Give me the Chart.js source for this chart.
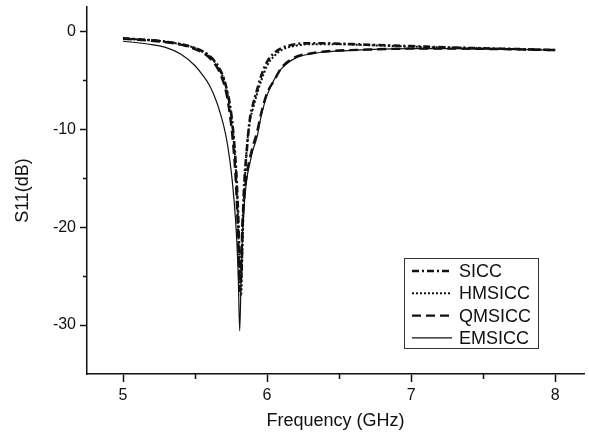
<!DOCTYPE html>
<html>
<head>
<meta charset="utf-8">
<script src="https://cdn.jsdelivr.net/npm/chart.js@4/dist/chart.umd.min.js"></script>
<style>
  html, body { margin: 0; padding: 0; background: #fff; }
  #wrap { width: 589px; height: 434px; position: relative; }
</style>
</head>
<body>
<div id="wrap"><canvas id="chart"></canvas></div>
<script>
// ── Data ──────────────────────────────────────────────────────
const freq = [5.0, 5.1, 5.2, 5.3, 5.4, 5.5, 5.55, 5.6, 5.65, 5.68, 5.7, 5.72, 5.74, 5.76, 5.78, 5.79,
  5.8, 5.81, 5.82, 5.83, 5.84, 5.86, 5.88, 5.9, 5.93, 5.96, 6.0, 6.05, 6.1, 6.2, 6.3, 6.4, 6.5, 6.7,
  7.0, 7.3, 7.6, 8.0];

const sicc = [-0.7, -0.8, -0.9, -1.05, -1.3, -1.7, -2.0, -2.5, -3.3, -4.1, -4.8, -5.9, -7.3, -9.5, -13, -15.5,
  -19, -23.5, -25.5, -20, -16, -12, -9, -7.6, -6, -4.5, -3.1, -2.2, -1.7, -1.3, -1.2, -1.2, -1.25, -1.35,
  -1.5, -1.65, -1.75, -1.9];

const hmsicc = [-0.7, -0.8, -0.9, -1.05, -1.3, -1.7, -2.05, -2.55, -3.4, -4.2, -4.9, -6.0, -7.5, -9.7, -13.3, -16,
  -20, -25, -27, -21.5, -17, -11.8, -9.2, -8.0, -6.4, -5.0, -3.5, -2.5, -1.9, -1.45, -1.3, -1.3, -1.3, -1.4,
  -1.55, -1.65, -1.75, -1.9];

const qmsicc = [-0.75, -0.85, -0.95, -1.1, -1.35, -1.8, -2.15, -2.7, -3.6, -4.5, -5.3, -6.5, -8.3, -10.8, -14.5, -17.5,
  -21.5, -26.5, -24, -19.5, -17.2, -14.5, -13, -11.8, -10.3, -8.3, -6.3, -5.0, -3.7, -2.6, -2.25, -2.05, -1.95, -1.85,
  -1.75, -1.75, -1.8, -1.9];

const emsicc = [-1.0, -1.15, -1.35, -1.65, -2.3, -3.5, -4.4, -5.5, -7.2, -8.6, -9.7, -11.1, -13, -15.5, -19, -21.5,
  -25, -30.6, -25, -20.5, -18, -15, -13.5, -12.2, -10.8, -8.6, -6.5, -4.9, -3.8, -2.7, -2.3, -2.1, -2.0, -1.85,
  -1.75, -1.75, -1.8, -1.9];

const seriesNames = ['SICC', 'HMSICC', 'QMSICC', 'EMSICC'];

const xTicks = [5, 5.5, 6, 6.5, 7, 7.5, 8];
const yTicks = [0, -5, -10, -15, -20, -25, -30];
const xMajor = [5, 6, 7, 8];
const yMajor = [0, -10, -20, -30];

// ── Styles ────────────────────────────────────────────────────
const INK = '#111';
const FONT = 'Arial, "Liberation Sans", sans-serif';

const lineStyles = [
  { borderWidth: 2.6, borderDash: [7, 3, 2, 3] },
  { borderWidth: 2, borderDash: [2, 2] },
  { borderWidth: 2.4, borderDash: [9, 5] },
  { borderWidth: 1.2, borderDash: [] },
];

function toPoints(vals) {
  return freq.map((f, i) => ({ x: f, y: vals[i] }));
}

const datasets = [sicc, hmsicc, qmsicc, emsicc].map((vals, i) => ({
  label: seriesNames[i],
  data: toPoints(vals),
  borderColor: INK,
  backgroundColor: INK,
  pointRadius: 0,
  cubicInterpolationMode: 'monotone',
  fill: false,
  ...lineStyles[i],
}));

// minor ticks drawn shorter than the major ones
const minorTicks = {
  id: 'minorTicks',
  afterDraw(chart) {
    const ctx = chart.ctx;
    const xs = chart.scales.x, ys = chart.scales.y;
    ctx.save();
    ctx.strokeStyle = INK;
    ctx.lineWidth = 1.5;
    xTicks.filter(v => !xMajor.includes(v)).forEach(v => {
      const px = Math.round(xs.getPixelForValue(v)) + 0.5;
      ctx.beginPath();
      ctx.moveTo(px, xs.top);
      ctx.lineTo(px, xs.top + 5);
      ctx.stroke();
    });
    yTicks.filter(v => !yMajor.includes(v)).forEach(v => {
      const py = Math.round(ys.getPixelForValue(v)) + 0.5;
      ctx.beginPath();
      ctx.moveTo(ys.right, py);
      ctx.lineTo(ys.right - 4, py);
      ctx.stroke();
    });
    ctx.restore();
  },
};

// boxed legend in the lower right of the plot
const boxLegend = {
  id: 'boxLegend',
  afterDraw(chart) {
    const ctx = chart.ctx;
    const bx = 404, by = 258, bw = 134, bh = 90;
    const rowH = 22.3;
    ctx.save();
    ctx.strokeStyle = '#333';
    ctx.lineWidth = 1;
    ctx.strokeRect(bx + 0.5, by + 0.5, bw, bh);
    ctx.font = '18px ' + FONT;
    ctx.textBaseline = 'middle';
    ctx.fillStyle = INK;
    chart.data.datasets.forEach((ds, i) => {
      const cy = by + 13 + i * rowH;
      ctx.save();
      ctx.strokeStyle = ds.borderColor;
      ctx.lineWidth = ds.borderWidth;
      ctx.setLineDash(ds.borderDash);
      ctx.beginPath();
      ctx.moveTo(bx + 8, cy);
      ctx.lineTo(bx + 48, cy);
      ctx.stroke();
      ctx.restore();
      ctx.fillText(ds.label, bx + 55, cy + 1);
    });
    ctx.restore();
  },
};

new Chart(document.getElementById('chart'), {
  type: 'line',
  data: { datasets },
  options: {
    responsive: true,
    maintainAspectRatio: false,
    animation: false,
    layout: { padding: { left: 8, right: 5, top: 7, bottom: 2 } },
    plugins: { legend: { display: false }, tooltip: { enabled: false } },
    scales: {
      x: {
        type: 'linear',
        min: 4.75,
        max: 8.2,
        afterBuildTicks: axis => { axis.ticks = xTicks.map(v => ({ value: v })); },
        afterFit: scale => { scale.height = 58; scale.paddingLeft = 0; scale.paddingRight = 0; },
        border: { display: true, color: INK, width: 1.5 },
        grid: {
          drawOnChartArea: false,
          drawTicks: true,
          tickLength: 8,
          tickWidth: 1.5,
          tickColor: c => (xMajor.includes(c.tick && c.tick.value) ? INK : 'rgba(0,0,0,0)'),
        },
        ticks: {
          color: INK,
          padding: 4,
          maxRotation: 0,
          autoSkip: false,
          font: { size: 16, family: FONT },
          callback: v => (xMajor.includes(v) ? String(v) : ''),
        },
        title: {
          display: true,
          text: 'Frequency (GHz)',
          color: INK,
          font: { size: 18, family: FONT },
          padding: { top: 5, bottom: 0 },
        },
      },
      y: {
        type: 'linear',
        min: -35,
        max: 2.5,
        afterBuildTicks: axis => { axis.ticks = yTicks.map(v => ({ value: v })); },
        afterFit: scale => { scale.width = 79; scale.paddingTop = 0; scale.paddingBottom = 0; },
        border: { display: true, color: INK, width: 1.5 },
        grid: {
          drawOnChartArea: false,
          drawTicks: true,
          tickLength: 7,
          tickWidth: 1.5,
          tickColor: c => (yMajor.includes(c.tick && c.tick.value) ? INK : 'rgba(0,0,0,0)'),
        },
        ticks: {
          color: INK,
          padding: 4,
          autoSkip: false,
          font: { size: 16, family: FONT },
          callback: v => (yMajor.includes(v) ? String(v) : ''),
        },
        title: {
          display: true,
          text: 'S11(dB)',
          color: INK,
          font: { size: 18, family: FONT },
          padding: { top: 4, bottom: 0 },
        },
      },
    },
  },
  plugins: [minorTicks, boxLegend],
});
</script>
</body>
</html>
